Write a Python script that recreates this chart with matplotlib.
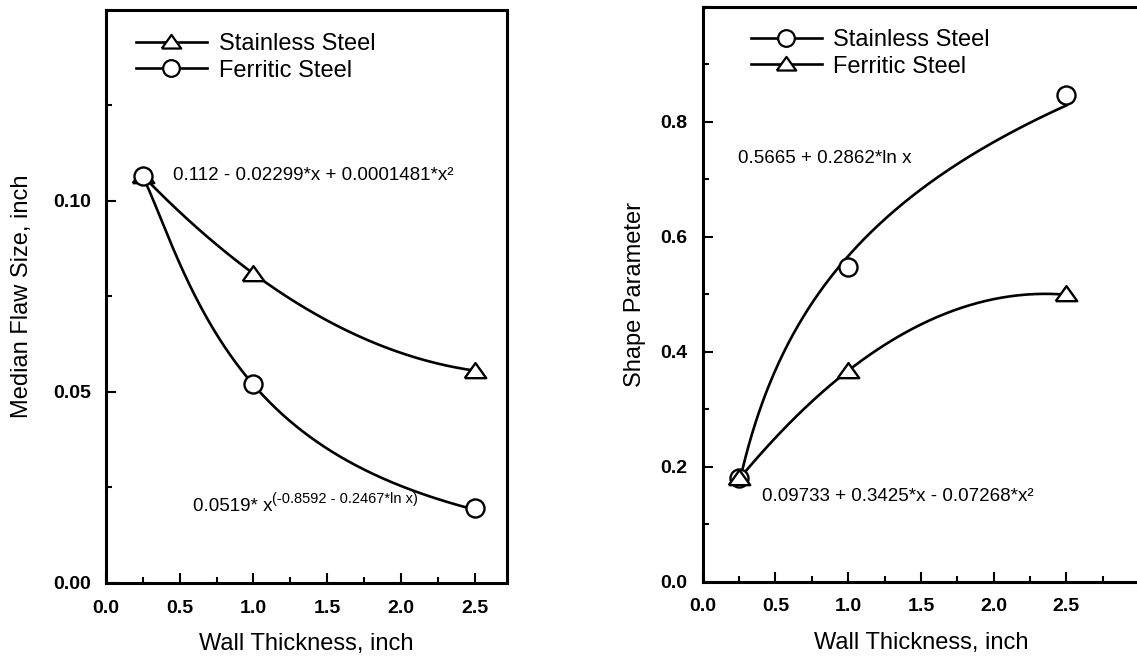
import numpy as np
import matplotlib
matplotlib.use("Agg")
import matplotlib.pyplot as plt
from matplotlib.ticker import MultipleLocator, FormatStrFormatter

plt.rcParams['font.family'] = ['Liberation Sans', 'DejaVu Sans']

# datos
thickness = [0.25, 1.0, 2.5]
flaw_stainless = [0.1066, 0.081, 0.0556]
flaw_ferritic = [0.1066, 0.0521, 0.0195]
shape_stainless = [0.180, 0.547, 0.846]
shape_ferritic = [0.180, 0.366, 0.500]

# coeficientes de los ajustes (del texto de la figura)
flaw_fer_coef = [0.0519, -0.8592, -0.2467]
shape_ss_coef = [0.5665, 0.2862]
shape_fer_coef = [0.09733, 0.3425, -0.07268]

eq_flaw_ss = "0.112 - 0.02299*x + 0.0001481*x\u00b2"
eq_flaw_fer = "0.0519* x"
eq_flaw_fer_exp = "(-0.8592 - 0.2467*ln x)"
eq_shape_ss = "0.5665 + 0.2862*ln x"
eq_shape_fer = "0.09733 + 0.3425*x - 0.07268*x\u00b2"

xx = np.linspace(0.25, 2.5, 200)

# triangulo algo mas bajo que el '^' de matplotlib
tri = [(-1, -0.62), (1, -0.62), (0, 0.78), (-1, -0.62)]

fig = plt.figure(figsize=(11.37, 6.58), dpi=100)
ax1 = fig.add_axes([0.0932, 0.114, 0.3527, 0.8708])
ax2 = fig.add_axes([0.618, 0.116, 0.3839, 0.8734])

LW = 1.9
line_kw = dict(color='k', lw=LW)
pt_kw = dict(ls='none', markerfacecolor='white',
             markeredgecolor='k', markeredgewidth=1.7, zorder=3)
leg_kw = dict(color='k', ls='-', lw=LW, markerfacecolor='white',
              markeredgecolor='k', markeredgewidth=1.6)
MS_O, MS_T = 13, 15.5


def style_axes(ax, xmax, ymax, yticks, yminor, yfmt, ylabel, ypad):
    ax.set_xlim(0, xmax)
    ax.set_ylim(0, ymax)
    ax.set_xticks([0.0, 0.5, 1.0, 1.5, 2.0, 2.5])
    ax.xaxis.set_minor_locator(MultipleLocator(0.25))
    ax.set_yticks(yticks)
    ax.yaxis.set_minor_locator(MultipleLocator(yminor))
    ax.xaxis.set_major_formatter(FormatStrFormatter('%.1f'))
    ax.yaxis.set_major_formatter(FormatStrFormatter(yfmt))
    ax.tick_params(which='both', direction='in', top=False, right=False, width=1.5)
    ax.tick_params(which='major', length=7)
    ax.tick_params(which='minor', length=4)
    ax.tick_params(axis='x', which='major', pad=12)
    ax.tick_params(axis='y', which='major', pad=11)
    for lab in ax.get_xticklabels() + ax.get_yticklabels():
        lab.set_fontweight('bold')
        lab.set_fontsize(14)
    for sp in ax.spines.values():
        sp.set_linewidth(2.2)
    ax.set_xlabel("Wall Thickness, inch", fontsize=17, labelpad=12)
    ax.set_ylabel(ylabel, fontsize=17, labelpad=ypad)


# --- panel izquierdo ---
p = np.polyfit(thickness, flaw_stainless, 2)
ax1.plot(xx, np.polyval(p, xx), **line_kw)
a, b, c = flaw_fer_coef
ax1.plot(xx, a * xx ** (b + c * np.log(xx)), **line_kw)
ax1.plot(thickness, flaw_stainless, marker=tri, markersize=MS_T, **pt_kw)
ax1.plot(thickness, flaw_ferritic, marker='o', markersize=MS_O, **pt_kw)
h1, = ax1.plot([], [], marker=tri, markersize=MS_T - 1.5, label='Stainless Steel', **leg_kw)
h2, = ax1.plot([], [], marker='o', markersize=MS_O - 1, label='Ferritic Steel', **leg_kw)
ax1.legend(handles=[h1, h2], loc='upper left', bbox_to_anchor=(0.075, 0.96),
           frameon=False, fontsize=17, numpoints=1, handlelength=3.0,
           handletextpad=0.5, labelspacing=0.2, borderpad=0, borderaxespad=0)
ax1.text(0.455, 0.1066, eq_flaw_ss, fontsize=13.5, ha='left', va='center')
t = ax1.text(0.59, 0.0200, eq_flaw_fer, fontsize=13.5, ha='left', va='center')
ax1.annotate(eq_flaw_fer_exp, xy=(1.0, 0.55), xycoords=t, fontsize=10.5,
             ha='left', va='bottom')
style_axes(ax1, 2.72, 0.15, [0.0, 0.05, 0.10], 0.025, '%.2f',
           "Median Flaw Size, inch", 14)

# --- panel derecho ---
a, b = shape_ss_coef
ax2.plot(xx, a + b * np.log(xx), **line_kw)
a, b, c = shape_fer_coef
ax2.plot(xx, a + b * xx + c * xx ** 2, **line_kw)
ax2.plot(thickness, shape_stainless, marker='o', markersize=MS_O, **pt_kw)
ax2.plot(thickness, shape_ferritic, marker=tri, markersize=MS_T, **pt_kw)
h3, = ax2.plot([], [], marker='o', markersize=MS_O - 1, label='Stainless Steel', **leg_kw)
h4, = ax2.plot([], [], marker=tri, markersize=MS_T - 1.5, label='Ferritic Steel', **leg_kw)
ax2.legend(handles=[h3, h4], loc='upper left', bbox_to_anchor=(0.11, 0.962),
           frameon=False, fontsize=17, numpoints=1, handlelength=3.0,
           handletextpad=0.5, labelspacing=0.2, borderpad=0, borderaxespad=0)
ax2.text(0.245, 0.736, eq_shape_ss, fontsize=13.5, ha='left', va='center')
ax2.text(0.405, 0.148, eq_shape_fer, fontsize=13.5, ha='left', va='center')
style_axes(ax2, 3.0, 1.0, [0.0, 0.2, 0.4, 0.6, 0.8], 0.1, '%.1f',
           "Shape Parameter", 10)

fig.savefig("out.png", dpi=100)
